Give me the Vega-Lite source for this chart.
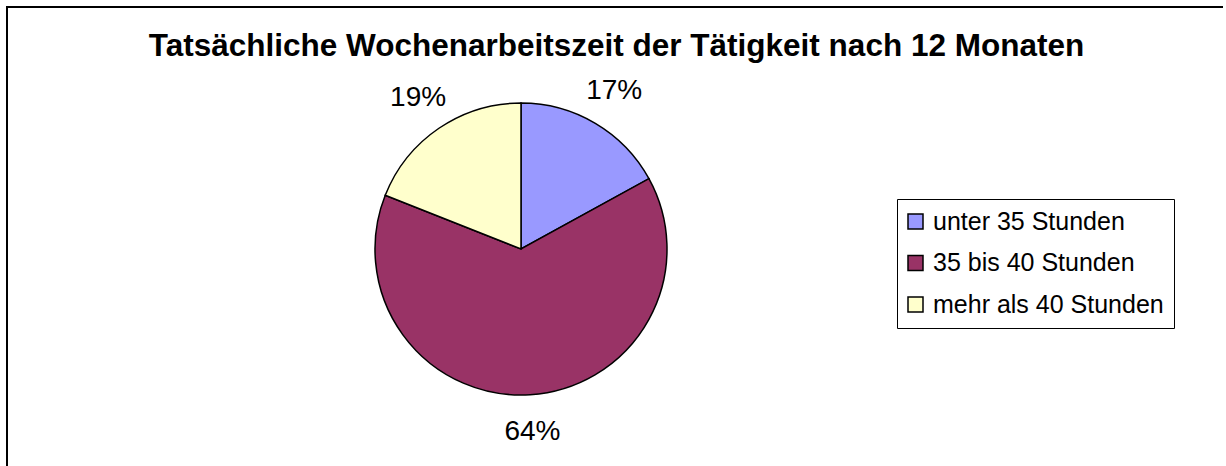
{
  "$schema": "https://vega.github.io/schema/vega-lite/v6.json",
  "autosize": {"type": "none"},
  "width": 1219,
  "height": 459,
  "padding": {"left": 7, "top": 7, "right": 0, "bottom": 0},
  "background": "white",
  "view": {"stroke": "black", "strokeWidth": 2, "fill": "white", "strokeDash": [1216, 1681, 459]},
  "title": {
    "text": "Tatsächliche Wochenarbeitszeit der Tätigkeit nach 12 Monaten",
    "fontSize": 31.5,
    "fontWeight": "bold",
    "font": "Liberation Sans",
    "color": "black",
    "anchor": "middle",
    "baseline": "alphabetic",
    "offset": -50,
    "dy": 30
  },
  "data": {
    "values": [
      {"kategorie": "unter 35 Stunden", "anteil": 0.17, "reihenfolge": 1},
      {"kategorie": "35 bis 40 Stunden", "anteil": 0.64, "reihenfolge": 2},
      {"kategorie": "mehr als 40 Stunden", "anteil": 0.19, "reihenfolge": 3}
    ]
  },
  "encoding": {
    "theta": {"field": "anteil", "type": "quantitative", "stack": true},
    "order": {"field": "reihenfolge", "type": "quantitative"}
  },
  "layer": [
    {
      "mark": {"type": "arc", "outerRadius": 146, "stroke": "black", "strokeWidth": 1.5, "x": 514, "y": 242},
      "encoding": {
        "color": {
          "field": "kategorie",
          "type": "nominal",
          "sort": ["unter 35 Stunden", "35 bis 40 Stunden", "mehr als 40 Stunden"],
          "scale": {
            "domain": ["unter 35 Stunden", "35 bis 40 Stunden", "mehr als 40 Stunden"],
            "range": ["#9999FF", "#993366", "#FFFFCC"]
          },
          "legend": {
            "title": null,
            "orient": "none",
            "legendX": 890,
            "legendY": 192,
            "padding": 10,
            "strokeColor": "black",
            "fillColor": "white",
            "labelFontSize": 25,
            "labelFont": "Liberation Sans",
            "labelColor": "black",
            "labelLimit": 400,
            "symbolType": "square",
            "symbolSize": 225,
            "symbolStrokeColor": "black",
            "symbolStrokeWidth": 1.5,
            "symbolOpacity": 1,
            "symbolOffset": -4,
            "rowPadding": 15.5,
            "labelOffset": 5
          }
        }
      }
    },
    {
      "mark": {"type": "text", "radius": 183, "fontSize": 28, "font": "Liberation Sans", "color": "black", "x": 514, "y": 242},
      "encoding": {
        "text": {"field": "anteil", "type": "quantitative", "format": ".0%"}
      }
    }
  ],
  "config": {
    "font": "Liberation Sans"
  }
}
